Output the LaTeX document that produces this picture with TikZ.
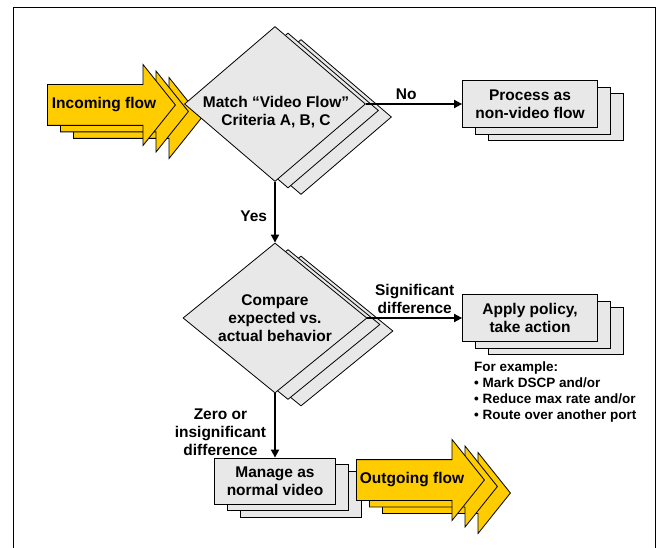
\documentclass[tikz,border=0pt]{standalone}
\usepackage{fontspec}
\setmainfont{Liberation Sans}
\usetikzlibrary{shapes.geometric,shapes.arrows,shadows,arrows.meta}

\definecolor{boxgray}{RGB}{232,232,232}
\definecolor{flowyellow}{RGB}{255,204,0}

\tikzset{
    stack/.style={copy shadow={shadow xshift=26pt,shadow yshift=-13pt,fill=#1,draw=black,line width=.8pt},
                  copy shadow={shadow xshift=13pt,shadow yshift=-6.5pt,fill=#1,draw=black,line width=.8pt}},
    txt/.style={font=\fontsize{15.5}{18}\selectfont\bfseries,align=center,inner sep=0pt},
    decision/.style={diamond,draw=black,line width=.8pt,fill=boxgray,inner sep=0pt,
                     minimum width=181pt,minimum height=155pt,stack=boxgray},
    task/.style={rectangle,draw=black,line width=.8pt,fill=boxgray,txt,inner sep=3pt,
                 minimum width=135pt,minimum height=47pt,stack=boxgray},
    flow/.style={single arrow,draw=black,line width=.8pt,fill=flowyellow,inner xsep=0pt,inner ysep=20pt,
                 minimum width=80pt,minimum height=128pt,single arrow head extend=20pt,
                 single arrow tip angle=102.7,single arrow head indent=0pt,stack=flowyellow},
    link/.style={line width=1.8pt,-{Triangle[length=8pt,width=8pt]}}
}

\begin{document}
\begin{tikzpicture}[x=1pt,y=-1pt]
        \useasboundingbox (0,0) rectangle (659,548);
        \draw[line width=.8pt] (13,548) -- (13,7) -- (655,7) -- (655,548);

        \node[flow,anchor=tail] (in) at (47,105) {};
        \node[txt] (intxt) at (104,105) {Incoming flow};
        \node[decision] (match) at (275,104) {};
        \node[txt] (matchtxt) at (276,112) {Match “Video Flow”\\Criteria A, B, C};
        \node[task] (proc) at (530,104) {Process as\\non-video flow};

        \node[decision,minimum width=184pt,minimum height=150pt] (cmp) at (275,318) {};
        \node[txt] (cmptxt) at (275,318) {Compare\\expected vs.\\actual behavior};
        \node[task] (apply) at (530,318) {Apply policy,\\take action};
        \node[font=\fontsize{13.5}{16}\selectfont\bfseries,align=left,inner sep=0pt,anchor=north west] (examples) at (474,362)
            {For example:\\\textbullet\ Mark DSCP and/or\\\textbullet\ Reduce max rate and/or\\\textbullet\ Route over another port};

        \node[task,minimum width=121pt,minimum height=46pt] (manage) at (275,481) {Manage as\\normal video};
        \node[flow,anchor=tail] (out) at (356,480) {};
        \node[txt] (outtxt) at (412,480) {Outgoing flow};

        \draw[link] (match) -- node[txt,above=3pt,pos=.42] (no) {No} (proc);
        \draw[link] (match) -- node[txt,left=7pt,pos=.57] (yes) {Yes} (cmp);
        \draw[link] (cmp) -- node[txt,above=3pt,pos=.5] (sig) {Significant\\difference} (apply);
        \draw[link] (cmp) -- node[txt,left=8pt,pos=.6] (zero) {Zero or\\insignificant\\difference} (manage);
\end{tikzpicture}
\end{document}
